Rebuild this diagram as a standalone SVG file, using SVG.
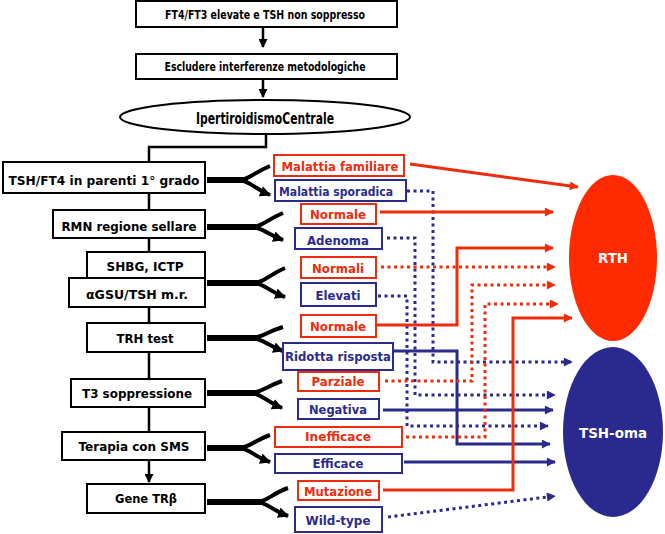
<svg xmlns="http://www.w3.org/2000/svg" width="665" height="534" viewBox="0 0 665 534">
<style>
.t{font-family:"DejaVu Sans","Liberation Sans",sans-serif;font-weight:bold;text-anchor:middle}
.k{fill:#000;font-size:13px}
.s{font-size:12.5px}
.r{fill:#ee2c0c}
.b{fill:#2b2b8c}
.bx{fill:#fff;stroke:#000;stroke-width:2}
.rbx{fill:#fff;stroke:#ee2c0c;stroke-width:2}
.bbx{fill:#fff;stroke:#2b2b8c;stroke-width:2}
.ln{fill:none;stroke:#000;stroke-width:2.5}
.stem{fill:none;stroke:#000;stroke-width:6}
.br{fill:none;stroke:#000;stroke-width:4}
.rs{fill:none;stroke:#ee2c0c;stroke-width:3}
.bs{fill:none;stroke:#2b2b8c;stroke-width:3}
.rd{fill:none;stroke:#ee2c0c;stroke-width:3;stroke-dasharray:3 3.5}
.bd{fill:none;stroke:#2b2b8c;stroke-width:3;stroke-dasharray:3 3.5}
</style>
<defs>
<marker id="ak" viewBox="0 0 10 10" refX="9" refY="5" markerWidth="10" markerHeight="9" markerUnits="userSpaceOnUse" orient="auto"><path d="M0,0L10,5L0,10z" fill="#000"/></marker>
<marker id="af" viewBox="0 0 10 10" refX="9" refY="5" markerWidth="11" markerHeight="11" markerUnits="userSpaceOnUse" orient="auto"><path d="M0,0L10,5L0,10z" fill="#000"/></marker>
<marker id="ar" viewBox="0 0 10 10" refX="9" refY="5" markerWidth="10" markerHeight="9" markerUnits="userSpaceOnUse" orient="auto"><path d="M0,0L10,5L0,10z" fill="#ee2c0c"/></marker>
<marker id="au" viewBox="0 0 10 10" refX="9" refY="5" markerWidth="10" markerHeight="9" markerUnits="userSpaceOnUse" orient="auto"><path d="M0,0L10,5L0,10z" fill="#2b2b8c"/></marker>
</defs>
<rect width="665" height="534" fill="#fff"/>

<g id="connectors">
<path class="ln" d="M263,28V47" marker-end="url(#ak)"/>
<path class="ln" d="M263,80V97" marker-end="url(#ak)"/>
<path class="ln" d="M266,134V147H149V162"/>
<path class="ln" d="M149,193V210M149,238V252M149,307V323M149,352V379M149,407V432"/>
<path class="ln" d="M149,460V482" marker-end="url(#ak)"/>
<!-- forks -->
<path class="stem" d="M207,180H243M207,227H256M207,283H258M207,338H256M207,393H255M207,448H243M207,502H261"/>
<path class="br" marker-end="url(#af)" d="M238,180C249,180 253,173 270,166M238,180C249,180 253,188 270,195"/>
<path class="br" marker-end="url(#af)" d="M251,227C262,227 266,220 283,213M251,227C262,227 266,234 283,240"/>
<path class="br" marker-end="url(#af)" d="M253,283C264,283 268,275 285,268M253,283C264,283 268,291 285,297"/>
<path class="br" marker-end="url(#af)" d="M251,338C262,338 266,332 283,327M251,338C262,338 266,345 283,351"/>
<path class="br" marker-end="url(#af)" d="M250,393C261,393 265,387 282,381M250,393C261,393 265,401 282,408"/>
<path class="br" marker-end="url(#af)" d="M238,448C249,448 253,441 270,435M238,448C249,448 253,456 270,462"/>
<path class="br" marker-end="url(#af)" d="M256,502C267,502 271,494 288,488M256,502C267,502 271,510 288,516"/>
<!-- outcome connectors -->
<path class="rs" marker-end="url(#ar)" d="M410,164L578,187"/>
<path class="bd" marker-end="url(#au)" d="M407,191H433V362H572"/>
<path class="rs" marker-end="url(#ar)" d="M380,212H553"/>
<path class="bd" marker-end="url(#au)" d="M387,238H415V395H555"/>
<path class="rd" marker-end="url(#ar)" d="M381,267H555"/>
<path class="bd" marker-end="url(#au)" d="M378,296H407V426H548"/>
<path class="rs" marker-end="url(#ar)" d="M377,325H457V248H553"/>
<path class="bs" marker-end="url(#au)" d="M393,351H457V444H550"/>
<path class="rd" marker-end="url(#ar)" d="M385,381H472V285H555"/>
<path class="bs" marker-end="url(#au)" d="M383,410H553"/>
<path class="rd" marker-end="url(#ar)" d="M406,437H485V304H558"/>
<path class="bs" marker-end="url(#au)" d="M404,462H555"/>
<path class="rs" marker-end="url(#ar)" d="M383,490H513V318H572"/>
<path class="bd" marker-end="url(#au)" d="M388,517L555,496"/>
</g>

<g id="n-start"><rect class="bx" x="136" y="1" width="261" height="26"/><text class="t k" x="265" y="19" font-size="12.5" textLength="200" lengthAdjust="spacingAndGlyphs">FT4/FT3 elevate e TSH non soppresso</text></g>
<g id="n-escludere"><rect class="bx" x="136" y="54" width="261" height="25"/><text class="t k" x="265" y="70.5" font-size="12.5" textLength="201" lengthAdjust="spacingAndGlyphs">Escludere interferenze metodologiche</text></g>
<g id="n-ipert"><ellipse cx="265" cy="117" rx="145" ry="17" fill="#fff" stroke="#000" stroke-width="2"/><text class="t" x="265" y="124" font-size="15" textLength="138" lengthAdjust="spacingAndGlyphs">IpertiroidismoCentrale</text></g>

<g id="n-parenti"><rect class="bx" x="3" y="162" width="202" height="31"/><text class="t k" x="104" y="185" textLength="191" lengthAdjust="spacingAndGlyphs">TSH/FT4 in parenti 1° grado</text></g>
<g id="n-rmn"><rect class="bx" x="53" y="210" width="152" height="28"/><text class="t k" x="129" y="231" textLength="135" lengthAdjust="spacingAndGlyphs">RMN regione sellare</text></g>
<g id="n-shbg"><rect class="bx" x="87" y="252" width="118" height="26"/><text class="t k" x="145" y="271" textLength="77" lengthAdjust="spacingAndGlyphs">SHBG, ICTP</text></g>
<g id="n-agsu"><rect class="bx" x="69" y="278" width="136" height="29"/><text class="t k" x="137" y="299" textLength="102" lengthAdjust="spacingAndGlyphs">αGSU/TSH m.r.</text></g>
<g id="n-trh"><rect class="bx" x="87" y="323" width="118" height="29"/><text class="t k" x="145" y="343" textLength="57" lengthAdjust="spacingAndGlyphs">TRH test</text></g>
<g id="n-t3"><rect class="bx" x="71" y="379" width="134" height="28"/><text class="t k" x="137" y="398" textLength="110" lengthAdjust="spacingAndGlyphs">T3 soppressione</text></g>
<g id="n-sms"><rect class="bx" x="62" y="432" width="143" height="28"/><text class="t k" x="134" y="451" textLength="111" lengthAdjust="spacingAndGlyphs">Terapia con SMS</text></g>
<g id="n-gene"><rect class="bx" x="87" y="484" width="118" height="29"/><text class="t k" x="146" y="503" textLength="62" lengthAdjust="spacingAndGlyphs">Gene TRβ</text></g>

<g id="o-familiare"><rect class="rbx" x="274" y="155" width="130" height="21"/><text class="t s r" x="340" y="171" textLength="117" lengthAdjust="spacingAndGlyphs">Malattia familiare</text></g>
<g id="o-sporadica"><rect class="bbx" x="275" y="180" width="131" height="21"/><text class="t s b" x="336" y="196" textLength="114" lengthAdjust="spacingAndGlyphs">Malattia sporadica</text></g>
<g id="o-normale1"><rect class="rbx" x="301" y="204" width="75" height="20"/><text class="t s r" x="338" y="219" textLength="56" lengthAdjust="spacingAndGlyphs">Normale</text></g>
<g id="o-adenoma"><rect class="bbx" x="295" y="228" width="87" height="21"/><text class="t s b" x="338" y="245" textLength="62" lengthAdjust="spacingAndGlyphs">Adenoma</text></g>
<g id="o-normali"><rect class="rbx" x="301" y="257" width="75" height="21"/><text class="t s r" x="338" y="273" textLength="52" lengthAdjust="spacingAndGlyphs">Normali</text></g>
<g id="o-elevati"><rect class="bbx" x="301" y="283" width="75" height="23"/><text class="t s b" x="338" y="300" textLength="45" lengthAdjust="spacingAndGlyphs">Elevati</text></g>
<g id="o-normale2"><rect class="rbx" x="301" y="315" width="75" height="22"/><text class="t s r" x="338" y="331" textLength="56" lengthAdjust="spacingAndGlyphs">Normale</text></g>
<g id="o-ridotta"><rect class="bbx" x="283" y="343" width="110" height="27"/><text class="t s b" x="338" y="361" textLength="106" lengthAdjust="spacingAndGlyphs">Ridotta risposta</text></g>
<g id="o-parziale"><rect class="rbx" x="298" y="372" width="81" height="19"/><text class="t s r" x="338" y="386" textLength="53" lengthAdjust="spacingAndGlyphs">Parziale</text></g>
<g id="o-negativa"><rect class="bbx" x="298" y="399" width="81" height="20"/><text class="t s b" x="338" y="414" textLength="58" lengthAdjust="spacingAndGlyphs">Negativa</text></g>
<g id="o-inefficace"><rect class="rbx" x="275" y="427" width="127" height="20"/><text class="t s r" x="338" y="441" textLength="66" lengthAdjust="spacingAndGlyphs">Inefficace</text></g>
<g id="o-efficace"><rect class="bbx" x="275" y="454" width="127" height="19"/><text class="t s b" x="338" y="467.5" textLength="51" lengthAdjust="spacingAndGlyphs">Efficace</text></g>
<g id="o-mutazione"><rect class="rbx" x="298" y="481" width="81" height="19"/><text class="t s r" x="338" y="495.5" textLength="68" lengthAdjust="spacingAndGlyphs">Mutazione</text></g>
<g id="o-wildtype"><rect class="bbx" x="295" y="507" width="87" height="25"/><text class="t s b" x="338" y="525" textLength="65" lengthAdjust="spacingAndGlyphs">Wild-type</text></g>

<g id="d-rth"><ellipse cx="613" cy="258" rx="44" ry="83" fill="#ff2a00"/><text class="t" x="613" y="263" font-size="14" fill="#fff" textLength="30" lengthAdjust="spacingAndGlyphs">RTH</text></g>
<g id="d-tshoma"><ellipse cx="613" cy="432" rx="50" ry="85" fill="#2a2a8e"/><text class="t" x="613" y="438" font-size="14" fill="#fff" textLength="68" lengthAdjust="spacingAndGlyphs">TSH-oma</text></g>
</svg>
